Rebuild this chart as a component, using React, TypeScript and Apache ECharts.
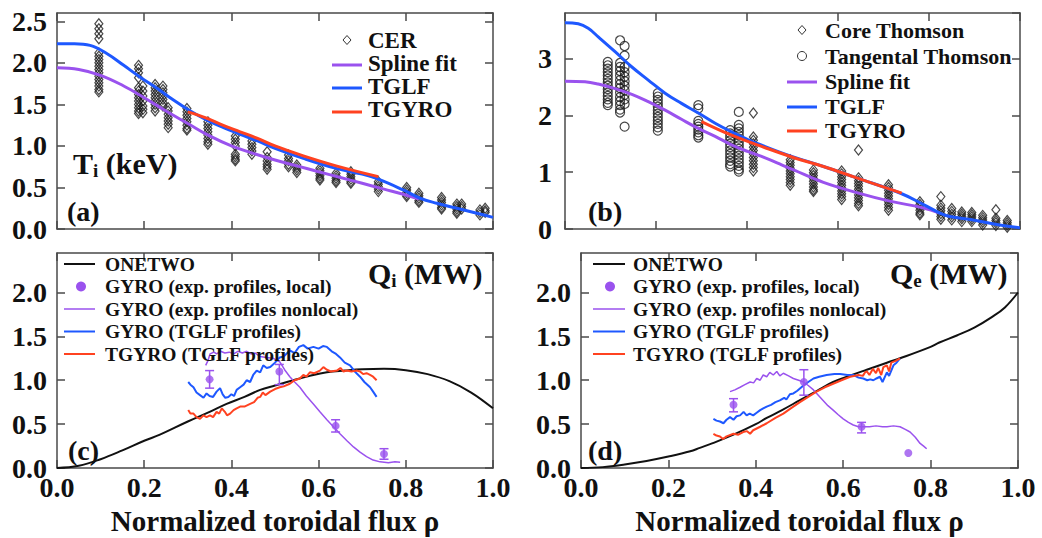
import React, { useEffect, useRef } from 'react';
import * as echarts from 'echarts';

const FONT = '"Liberation Serif", "Times New Roman", serif';
const PURPLE = '#9a52ee';
const BLUE = '#1e58ff';
const RED = '#ff4220';
const BORDER = '#4a4a4a';

// ---------- Panel (a): Ti (keV) ----------
const cerClusters: [number, number[]][] = [
  [0.096, [2.47, 2.41, 2.35, 2.29, 2.12, 2.08, 2.04, 2.0, 1.96, 1.92, 1.88, 1.84, 1.8, 1.76, 1.72, 1.68, 1.65]],
  [0.187, [1.97, 1.93, 1.88, 1.82, 1.7, 1.66, 1.62, 1.58, 1.54, 1.5, 1.46, 1.42, 1.39]],
  [0.197, [1.72, 1.66, 1.6, 1.54, 1.48, 1.44, 1.4]],
  [0.225, [1.74, 1.7, 1.66, 1.62, 1.58, 1.54, 1.5, 1.46, 1.42]],
  [0.243, [1.72, 1.68, 1.64, 1.6, 1.56, 1.52, 1.48]],
  [0.255, [1.46, 1.42, 1.38, 1.34, 1.3, 1.26, 1.22]],
  [0.298, [1.45, 1.41, 1.37, 1.33, 1.29, 1.25, 1.21, 1.19]],
  [0.346, [1.29, 1.25, 1.21, 1.17, 1.13, 1.09, 1.05, 1.02]],
  [0.409, [1.12, 1.08, 1.04, 1.0, 0.9, 0.87, 0.84, 0.82]],
  [0.447, [1.06, 1.02, 0.98, 0.94, 0.9]],
  [0.482, [0.93, 0.86, 0.82, 0.78, 0.75, 0.72]],
  [0.531, [0.89, 0.85, 0.82, 0.78, 0.75]],
  [0.55, [0.77, 0.74, 0.71, 0.68]],
  [0.603, [0.73, 0.7, 0.67, 0.64, 0.61, 0.59]],
  [0.64, [0.67, 0.64, 0.61, 0.58, 0.56]],
  [0.674, [0.69, 0.66, 0.63, 0.6, 0.57, 0.55]],
  [0.737, [0.57, 0.54, 0.51, 0.48, 0.45]],
  [0.802, [0.5, 0.47, 0.44, 0.41, 0.39]],
  [0.83, [0.43, 0.4, 0.37, 0.34, 0.32]],
  [0.882, [0.38, 0.35, 0.32, 0.29, 0.26, 0.24]],
  [0.917, [0.3, 0.27, 0.24, 0.21, 0.19]],
  [0.928, [0.3, 0.27, 0.24]],
  [0.97, [0.23, 0.2, 0.17]],
  [0.982, [0.25, 0.22, 0.2]],
];
const splineA: [number, number][] = [
  [0, 1.94], [0.05, 1.92], [0.1, 1.85], [0.15, 1.73], [0.2, 1.58], [0.25, 1.42], [0.3, 1.27],
  [0.35, 1.12], [0.4, 1.0], [0.45, 0.91], [0.5, 0.83], [0.55, 0.76], [0.6, 0.69], [0.65, 0.62],
  [0.7, 0.55], [0.75, 0.48], [0.8, 0.41], [0.83, 0.36],
];
const tglfA: [number, number][] = [
  [0, 2.23], [0.04, 2.23], [0.076, 2.21], [0.115, 2.11], [0.153, 1.97], [0.19, 1.83], [0.23, 1.69],
  [0.268, 1.55], [0.306, 1.42], [0.344, 1.31], [0.382, 1.22], [0.42, 1.14], [0.46, 1.06], [0.5, 0.97],
  [0.565, 0.85], [0.64, 0.73], [0.7, 0.66], [0.737, 0.6], [0.794, 0.47], [0.833, 0.37], [0.871, 0.31],
  [0.917, 0.25], [0.963, 0.19], [1.0, 0.14],
];
const tgyroA: [number, number][] = [
  [0.3, 1.41], [0.34, 1.34], [0.38, 1.25], [0.42, 1.17], [0.46, 1.09], [0.5, 1.0], [0.565, 0.88],
  [0.64, 0.76], [0.737, 0.63],
];

// ---------- Panel (b): Te ----------
const tangentalClusters: [number, number[]][] = [
  [0.094, [2.94, 2.88, 2.82, 2.76, 2.7, 2.64, 2.58, 2.52, 2.46, 2.4, 2.34, 2.28, 2.22, 2.18]],
  [0.121, [3.32, 2.92, 2.85, 2.78, 2.7, 2.62, 2.55, 2.48, 2.4, 2.32, 2.25, 2.18, 2.1, 2.05]],
  [0.131, [3.22, 3.05, 2.85, 2.76, 2.68, 2.6, 2.52, 2.44, 2.36, 2.28, 2.2, 1.8]],
  [0.204, [2.39, 2.33, 2.27, 2.21, 2.15, 2.09, 2.03, 1.97, 1.91, 1.85, 1.79, 1.73]],
  [0.293, [2.18, 2.12, 1.9, 1.85, 1.8, 1.75, 1.7, 1.65, 1.61]],
  [0.363, [1.74, 1.68, 1.62, 1.56, 1.5, 1.44, 1.38, 1.32, 1.26, 1.2, 1.14, 1.1]],
  [0.382, [2.06, 1.83, 1.77, 1.71, 1.65, 1.59, 1.53, 1.47, 1.41, 1.35, 1.29, 1.23, 1.17, 1.11, 1.05, 1.01]],
];
const coreClusters: [number, number[]][] = [
  [0.414, [2.04, 1.62, 1.56, 1.5, 1.44, 1.38, 1.32, 1.26, 1.2, 1.14, 1.08, 1.02]],
  [0.495, [1.22, 1.17, 1.12, 1.07, 1.02, 0.97, 0.92, 0.87, 0.82, 0.77]],
  [0.546, [1.04, 0.99, 0.94, 0.89, 0.84, 0.79, 0.74, 0.69, 0.66]],
  [0.608, [1.02, 0.97, 0.92, 0.87, 0.82, 0.77, 0.72, 0.67, 0.62, 0.57, 0.52]],
  [0.645, [1.39, 0.9, 0.85, 0.8, 0.75, 0.7, 0.65, 0.6, 0.55, 0.5, 0.45, 0.41]],
  [0.711, [0.78, 0.73, 0.68, 0.63, 0.58, 0.53, 0.48, 0.43, 0.38, 0.33]],
  [0.78, [0.48, 0.43, 0.38, 0.33, 0.28, 0.25]],
  [0.826, [0.57, 0.42, 0.37, 0.32, 0.27, 0.22, 0.17]],
  [0.85, [0.36, 0.31, 0.26, 0.21, 0.16]],
  [0.872, [0.3, 0.26, 0.22, 0.18, 0.13]],
  [0.894, [0.29, 0.25, 0.21, 0.17, 0.13]],
  [0.918, [0.24, 0.2, 0.16, 0.12, 0.07]],
  [0.947, [0.34, 0.19, 0.15, 0.11, 0.06]],
  [0.972, [0.15, 0.11, 0.07, 0.03]],
];
const splineB: [number, number][] = [
  [0, 2.6], [0.044, 2.59], [0.073, 2.55], [0.11, 2.47], [0.147, 2.37], [0.183, 2.24], [0.22, 2.09],
  [0.256, 1.93], [0.293, 1.77], [0.33, 1.63], [0.366, 1.48], [0.403, 1.36], [0.44, 1.25], [0.476, 1.13],
  [0.505, 1.03], [0.568, 0.82], [0.641, 0.64], [0.714, 0.49], [0.788, 0.37], [0.824, 0.28],
];
const tglfB: [number, number][] = [
  [0, 3.63], [0.029, 3.61], [0.051, 3.53], [0.073, 3.38], [0.11, 3.12], [0.147, 2.85], [0.183, 2.62],
  [0.22, 2.39], [0.256, 2.21], [0.293, 2.04], [0.33, 1.86], [0.366, 1.71], [0.403, 1.57], [0.44, 1.45],
  [0.476, 1.34], [0.505, 1.26], [0.568, 1.1], [0.641, 0.9], [0.74, 0.62], [0.788, 0.43], [0.824, 0.28],
  [0.846, 0.22], [0.897, 0.16], [0.949, 0.08], [1.0, 0.02],
];
const tgyroB: [number, number][] = [
  [0.3, 1.89], [0.366, 1.65], [0.44, 1.43], [0.505, 1.25], [0.568, 1.1], [0.641, 0.9], [0.74, 0.63],
];

// ---------- Panel (c): Qi (MW) ----------
const onetwoC: [number, number][] = [
  [0, 0], [0.05, 0.025], [0.1, 0.1], [0.15, 0.2], [0.2, 0.31], [0.236, 0.38], [0.3, 0.53], [0.35, 0.64],
  [0.389, 0.73], [0.43, 0.81], [0.466, 0.89], [0.5, 0.94], [0.542, 1.0], [0.58, 1.05], [0.619, 1.09],
  [0.66, 1.11], [0.7, 1.125], [0.75, 1.13], [0.8, 1.115], [0.85, 1.07], [0.9, 0.99], [0.95, 0.86], [1.0, 0.68],
];
// [rho, value, lower, upper]
const gyroLocalC: [number, number, number, number][] = [
  [0.35, 1.01, 0.91, 1.11], [0.51, 1.1, 0.95, 1.18], [0.639, 0.48, 0.41, 0.55], [0.75, 0.16, 0.1, 0.22],
];
const nonlocalC: [number, number][] = [
  [0.341, 1.17], [0.346, 1.22], [0.351, 1.3], [0.36, 1.32], [0.366, 1.3], [0.375, 1.33], [0.385, 1.31],
  [0.395, 1.32], [0.405, 1.3], [0.415, 1.33], [0.425, 1.31], [0.435, 1.33], [0.445, 1.3], [0.455, 1.31],
  [0.466, 1.27], [0.48, 1.26], [0.496, 1.25], [0.511, 1.21], [0.522, 1.12], [0.534, 1.04], [0.545, 0.98],
  [0.557, 0.92], [0.572, 0.82], [0.588, 0.73], [0.603, 0.64], [0.619, 0.55], [0.634, 0.47], [0.649, 0.39],
  [0.665, 0.31], [0.68, 0.24], [0.695, 0.18], [0.71, 0.13], [0.725, 0.09], [0.741, 0.07], [0.76, 0.06],
  [0.775, 0.07], [0.787, 0.065],
];
const gyroTglfC: [number, number][] = [
  [0.301, 0.98], [0.306, 0.95], [0.313, 0.92], [0.32, 0.86], [0.328, 0.83], [0.336, 0.8], [0.343, 0.85],
  [0.35, 0.82], [0.358, 0.81], [0.366, 0.87], [0.374, 0.91], [0.38, 0.84], [0.386, 0.8], [0.393, 0.81],
  [0.4, 0.84], [0.406, 0.82], [0.412, 0.89], [0.42, 0.92], [0.428, 0.95], [0.435, 1.0], [0.443, 0.98],
  [0.45, 1.06], [0.458, 1.11], [0.466, 1.09], [0.473, 1.17], [0.481, 1.14], [0.489, 1.15], [0.5, 1.2],
  [0.511, 1.26], [0.52, 1.27], [0.534, 1.34], [0.545, 1.31], [0.555, 1.38], [0.565, 1.4], [0.575, 1.36],
  [0.588, 1.38], [0.6, 1.36], [0.61, 1.39], [0.619, 1.38], [0.63, 1.33], [0.64, 1.3], [0.649, 1.26],
  [0.66, 1.2], [0.672, 1.17], [0.683, 1.1], [0.695, 1.04], [0.705, 0.98], [0.718, 0.92], [0.725, 0.87],
  [0.733, 0.81],
];
const tgyroC: [number, number][] = [
  [0.301, 0.66], [0.306, 0.62], [0.313, 0.62], [0.32, 0.58], [0.328, 0.56], [0.336, 0.6], [0.343, 0.58],
  [0.351, 0.6], [0.358, 0.58], [0.366, 0.64], [0.372, 0.62], [0.378, 0.68], [0.385, 0.64], [0.39, 0.6],
  [0.397, 0.62], [0.405, 0.66], [0.412, 0.68], [0.42, 0.7], [0.43, 0.7], [0.443, 0.73], [0.452, 0.75],
  [0.46, 0.8], [0.466, 0.81], [0.472, 0.86], [0.478, 0.83], [0.489, 0.87], [0.5, 0.9], [0.511, 0.92],
  [0.52, 0.93], [0.534, 0.96], [0.545, 1.0], [0.557, 1.02], [0.565, 1.06], [0.572, 1.04], [0.58, 1.09],
  [0.59, 1.08], [0.603, 1.11], [0.611, 1.15], [0.619, 1.12], [0.628, 1.1], [0.642, 1.11], [0.65, 1.14],
  [0.657, 1.1], [0.665, 1.11], [0.675, 1.1], [0.688, 1.11], [0.695, 1.1], [0.702, 1.07], [0.71, 1.08],
  [0.718, 1.06], [0.725, 1.04], [0.733, 1.0],
];

// ---------- Panel (d): Qe (MW) ----------
const onetwoD: [number, number][] = [
  [0, 0], [0.05, 0.01], [0.1, 0.04], [0.15, 0.08], [0.2, 0.13], [0.25, 0.19], [0.272, 0.23], [0.3, 0.28],
  [0.349, 0.38], [0.4, 0.5], [0.425, 0.57], [0.46, 0.66], [0.5, 0.77], [0.54, 0.88], [0.577, 0.98],
  [0.62, 1.06], [0.654, 1.12], [0.7, 1.2], [0.73, 1.25], [0.8, 1.38], [0.82, 1.43], [0.86, 1.51],
  [0.9, 1.6], [0.94, 1.72], [0.97, 1.83], [1.0, 2.0],
];
const gyroLocalD: [number, number, number, number][] = [
  [0.349, 0.72, 0.64, 0.79], [0.51, 0.98, 0.83, 1.12], [0.642, 0.47, 0.4, 0.52], [0.749, 0.17, 0.17, 0.17],
];
const nonlocalD: [number, number][] = [
  [0.341, 0.87], [0.352, 0.89], [0.364, 0.92], [0.375, 0.95], [0.387, 0.98], [0.395, 0.97], [0.402, 1.02],
  [0.41, 1.0], [0.417, 1.06], [0.425, 1.04], [0.432, 1.09], [0.44, 1.06], [0.448, 1.1], [0.455, 1.05],
  [0.463, 1.08], [0.475, 1.05], [0.486, 1.02], [0.498, 1.0], [0.509, 0.98], [0.52, 0.94], [0.532, 0.89],
  [0.543, 0.83], [0.554, 0.77], [0.565, 0.71], [0.577, 0.66], [0.588, 0.61], [0.6, 0.56], [0.612, 0.52],
  [0.623, 0.49], [0.635, 0.47], [0.646, 0.47], [0.66, 0.47], [0.675, 0.48], [0.69, 0.47], [0.7, 0.47],
  [0.715, 0.48], [0.73, 0.47], [0.742, 0.44], [0.753, 0.41], [0.765, 0.35], [0.776, 0.28], [0.784, 0.25],
  [0.791, 0.22],
];
const gyroTglfD: [number, number][] = [
  [0.303, 0.56], [0.31, 0.54], [0.318, 0.53], [0.326, 0.51], [0.333, 0.55], [0.341, 0.58], [0.349, 0.55],
  [0.356, 0.59], [0.364, 0.6], [0.372, 0.64], [0.379, 0.6], [0.386, 0.62], [0.394, 0.6], [0.402, 0.63],
  [0.41, 0.66], [0.417, 0.68], [0.425, 0.7], [0.435, 0.72], [0.445, 0.75], [0.455, 0.77], [0.465, 0.8],
  [0.47, 0.78], [0.478, 0.84], [0.486, 0.85], [0.495, 0.88], [0.509, 0.94], [0.52, 0.98], [0.532, 1.02],
  [0.545, 1.04], [0.562, 1.06], [0.58, 1.07], [0.593, 1.07], [0.61, 1.06], [0.623, 1.06], [0.635, 1.03],
  [0.646, 1.02], [0.655, 1.0], [0.662, 1.01], [0.669, 1.0], [0.676, 1.02], [0.684, 1.04], [0.69, 0.98],
  [0.7, 1.09], [0.705, 1.05], [0.715, 1.17], [0.722, 1.2], [0.73, 1.25],
];
const tgyroD: [number, number][] = [
  [0.303, 0.39], [0.31, 0.37], [0.318, 0.36], [0.325, 0.33], [0.333, 0.36], [0.349, 0.39], [0.36, 0.38],
  [0.371, 0.41], [0.38, 0.42], [0.387, 0.39], [0.394, 0.43], [0.41, 0.47], [0.425, 0.51], [0.445, 0.57],
  [0.463, 0.62], [0.48, 0.68], [0.501, 0.75], [0.52, 0.81], [0.539, 0.87], [0.558, 0.92], [0.577, 0.96],
  [0.596, 1.0], [0.616, 1.04], [0.635, 1.06], [0.645, 1.05], [0.65, 1.09], [0.654, 1.1], [0.66, 1.06],
  [0.668, 1.13], [0.675, 1.08], [0.68, 1.14], [0.687, 1.06], [0.692, 1.15], [0.7, 1.17], [0.705, 1.1],
  [0.71, 1.2], [0.72, 1.22], [0.73, 1.25],
];

// axis ranges / tick steps
const yMax = [2.6, 3.8, 2.45, 2.45];
const yStep = [0.5, 1, 0.5, 0.5];
const yDecimals = [1, 0, 1, 1];
const xTicksStep = 0.2;
const xName = 'Normalized toroidal flux ρ';

const flatten = (cl: [number, number[]][]) =>
  cl.flatMap(([x, ys]) => ys.map((y) => [x, y] as [number, number]));

export default function App() {
  const ref = useRef<HTMLDivElement>(null);
  useEffect(() => {
    if (!ref.current) return;
    const chart = echarts.init(ref.current, undefined, { renderer: 'svg' });

    const grids = [
      { left: 57, top: 13, width: 436, height: 216 },
      { left: 565, top: 13, width: 455, height: 216 },
      { left: 57, top: 253, width: 436, height: 215 },
      { left: 581, top: 253, width: 437, height: 215 },
    ];
    const lineSt = { color: BORDER, width: 1.5 };
    const labelSt = { fontFamily: FONT, fontWeight: 'bold', fontSize: 28, color: '#111' };
    const yMargins = [10, 13, 10, 10];

    const xAxis: any[] = [];
    const yAxis: any[] = [];
    grids.forEach((_, gi) => {
      const bottomLabels = gi >= 2;
      xAxis.push({
        type: 'value', gridIndex: gi, min: 0, max: 1, interval: xTicksStep, position: 'bottom',
        axisLine: { show: true, onZero: false, lineStyle: lineSt },
        axisTick: { show: true, inside: true, length: 8, lineStyle: lineSt },
        splitLine: { show: false },
        axisLabel: { show: bottomLabels, margin: 5, ...labelSt, formatter: (v: number) => v.toFixed(1) },
        name: bottomLabels ? xName : '',
        nameLocation: 'middle', nameGap: 38,
        nameTextStyle: { fontFamily: FONT, fontWeight: 'bold', fontSize: 29, color: '#111' },
      });
      xAxis.push({
        type: 'value', gridIndex: gi, min: 0, max: 1, interval: xTicksStep, position: 'top',
        axisLine: { show: true, onZero: false, lineStyle: lineSt },
        axisTick: { show: true, inside: true, length: 8, lineStyle: lineSt },
        splitLine: { show: false }, axisLabel: { show: false },
      });
      const step = yStep[gi];
      const fmt = (v: number) => {
        const k = v / step;
        return Math.abs(k - Math.round(k)) < 1e-6 ? v.toFixed(yDecimals[gi]) : '';
      };
      yAxis.push({
        type: 'value', gridIndex: gi, min: 0, max: yMax[gi], interval: step, position: 'left',
        axisLine: { show: true, onZero: false, lineStyle: lineSt },
        axisTick: { show: true, inside: true, length: 8, lineStyle: lineSt },
        splitLine: { show: false },
        axisLabel: { show: true, margin: yMargins[gi], ...labelSt, formatter: fmt, showMaxLabel: false },
      });
      yAxis.push({
        type: 'value', gridIndex: gi, min: 0, max: yMax[gi], interval: step, position: 'right',
        axisLine: { show: true, onZero: false, lineStyle: lineSt },
        axisTick: { show: true, inside: true, length: 8, lineStyle: lineSt },
        splitLine: { show: false }, axisLabel: { show: false },
      });
    });

    const line = (name: string, data: any[], gi: number, color: string, width: number, smooth: number | boolean, z = 3) => ({
      name, type: 'line', xAxisIndex: gi * 2, yAxisIndex: gi * 2, data, showSymbol: false, symbol: 'none',
      smooth, lineStyle: { color, width }, itemStyle: { color }, z, silent: true,
    });
    const scatter = (name: string, data: any[], gi: number, symbol: string, size: any) => ({
      name, type: 'scatter', xAxisIndex: gi * 2, yAxisIndex: gi * 2, data, symbol, symbolSize: size,
      itemStyle: { color: 'rgba(0,0,0,0)', borderColor: '#1a1a1a', borderWidth: 1.2 }, z: 2, silent: true,
    });
    const dots = (name: string, data: any[], gi: number) => ({
      name, type: 'scatter', xAxisIndex: gi * 2, yAxisIndex: gi * 2,
      data: data.map((d) => [d[0], d[1]]), symbol: 'circle', symbolSize: 8,
      itemStyle: { color: PURPLE }, z: 5, silent: true,
    });
    const errBars = (data: any[], gi: number) => ({
      type: 'custom', xAxisIndex: gi * 2, yAxisIndex: gi * 2, data, z: 5, silent: true,
      renderItem: (_p: any, api: any) => {
        const x = api.value(0), lo = api.value(2), hi = api.value(3);
        if (!(hi > lo)) return { type: 'group', children: [] };
        const a = api.coord([x, lo]);
        const b = api.coord([x, hi]);
        const st = { stroke: PURPLE, lineWidth: 1.5 };
        const w = 4.5;
        return {
          type: 'group',
          children: [
            { type: 'line', shape: { x1: a[0], y1: a[1], x2: b[0], y2: b[1] }, style: st },
            { type: 'line', shape: { x1: a[0] - w, y1: a[1], x2: a[0] + w, y2: a[1] }, style: st },
            { type: 'line', shape: { x1: b[0] - w, y1: b[1], x2: b[0] + w, y2: b[1] }, style: st },
          ],
        };
      },
    });

    const series: any[] = [
      // (a)
      scatter('CER', flatten(cerClusters), 0, 'diamond', [8, 10]),
      line('Spline fit', splineA, 0, PURPLE, 3, 0.4),
      line('TGLF', tglfA, 0, BLUE, 3, 0.4),
      line('TGYRO', tgyroA, 0, RED, 3, 0.4, 4),
      // (b)
      scatter('Tangental Thomson', flatten(tangentalClusters), 1, 'circle', 9),
      scatter('Core Thomson', flatten(coreClusters), 1, 'diamond', [8, 10]),
      line('Spline fit', splineB, 1, PURPLE, 3, 0.4),
      line('TGLF', tglfB, 1, BLUE, 3, 0.4),
      line('TGYRO', tgyroB, 1, RED, 3, 0.4, 4),
      // (c)
      line('ONETWO', onetwoC, 2, '#111', 2, 0.4),
      line('GYRO (exp. profiles nonlocal)', nonlocalC, 2, PURPLE, 1.5, false),
      line('GYRO (TGLF profiles)', gyroTglfC, 2, BLUE, 2, false),
      line('TGYRO (TGLF profiles)', tgyroC, 2, RED, 2, false),
      errBars(gyroLocalC, 2),
      dots('GYRO (exp. profiles, local)', gyroLocalC, 2),
      // (d)
      line('ONETWO', onetwoD, 3, '#111', 2, 0.4),
      line('GYRO (exp. profiles nonlocal)', nonlocalD, 3, PURPLE, 1.5, false),
      line('GYRO (TGLF profiles)', gyroTglfD, 3, BLUE, 2, false),
      line('TGYRO (TGLF profiles)', tgyroD, 3, RED, 2, false, 4),
      errBars(gyroLocalD, 3),
      dots('GYRO (exp. profiles, local)', gyroLocalD, 3),
    ];

    const txt = (x: number, y: number, text: string, size: number, extra: any = {}) => ({
      type: 'text', x, y, z: 100,
      style: {
        text, fill: '#111', font: `bold ${size}px ${FONT}`,
        verticalAlign: 'middle', textAlign: 'left', ...extra,
      },
    });
    const hline = (x1: number, x2: number, y: number, color: string, w: number) => ({
      type: 'line', z: 100, shape: { x1, y1: y, x2, y2: y }, style: { stroke: color, lineWidth: w },
    });
    const diamond = (cx: number, cy: number) => ({
      type: 'polygon', z: 100,
      shape: { points: [[cx, cy - 4.5], [cx + 4, cy], [cx, cy + 4.5], [cx - 4, cy]] },
      style: { fill: 'none', stroke: '#333', lineWidth: 1 },
    });
    const sub = (x: number, y: number, main: string, s: string, rest: string, size: number) => ({
      type: 'text', x, y, z: 100,
      style: {
        text: `{a|${main}}{s|${s}}{a|${rest}}`,
        verticalAlign: 'middle', textAlign: 'left',
        rich: {
          a: { font: `bold ${size}px ${FONT}`, fill: '#111', lineHeight: size + 4 },
          s: { font: `bold ${Math.round(size * 0.62)}px ${FONT}`, fill: '#111', lineHeight: 12, verticalAlign: 'bottom' },
        },
      },
    });

    const LF = 19.5;
    const legC = (x0: number, x1: number, tx: number, dotX: number, rows: number[]) => [
      hline(x0, x1, rows[0], '#111', 2), txt(tx, rows[0], 'ONETWO', LF),
      { type: 'circle', z: 100, shape: { cx: dotX, cy: rows[1], r: 5 }, style: { fill: PURPLE } },
      txt(tx, rows[1], 'GYRO (exp. profiles, local)', LF),
      hline(x0, x1, rows[2], PURPLE, 1.5), txt(tx, rows[2], 'GYRO (exp. profiles nonlocal)', LF),
      hline(x0, x1, rows[3], BLUE, 2), txt(tx, rows[3], 'GYRO (TGLF profiles)', LF),
      hline(x0, x1, rows[4], RED, 2), txt(tx, rows[4], 'TGYRO (TGLF profiles)', LF),
    ];
    const legRows = [264, 286.5, 309, 331.5, 354];

    const graphic: any[] = [
      // (a) legend
      diamond(347, 40), txt(368, 40, 'CER', 23),
      hline(332, 362, 65, PURPLE, 3), txt(368, 63, 'Spline fit', 23),
      hline(332, 362, 88, BLUE, 3), txt(368, 86, 'TGLF', 23),
      hline(332, 362, 112, RED, 3), txt(368, 109, 'TGYRO', 23),
      sub(73, 163, 'T', 'i', ' (keV)', 30),
      txt(67, 211, '(a)', 28),
      // (b) legend
      diamond(802, 30), txt(825, 30, 'Core Thomson', 22),
      { type: 'circle', z: 100, shape: { cx: 802, cy: 56, r: 4.5 }, style: { fill: 'none', stroke: '#333', lineWidth: 1 } },
      txt(825, 56, 'Tangental Thomson', 22),
      hline(787, 817, 82, PURPLE, 3), txt(825, 81, 'Spline fit', 22),
      hline(787, 817, 107, BLUE, 3), txt(825, 106, 'TGLF', 22),
      hline(787, 817, 131, RED, 3), txt(825, 130, 'TGYRO', 22),
      txt(588, 211, '(b)', 28),
      // (c)
      ...legC(64, 95, 105, 81, legRows),
      sub(368, 273, 'Q', 'i', ' (MW)', 30),
      txt(68, 450, '(c)', 28),
      // (d)
      ...legC(593, 625, 633, 610, legRows),
      sub(890, 273, 'Q', 'e', ' (MW)', 30),
      txt(588, 450, '(d)', 28),
    ];

    chart.setOption({
      animation: false,
      backgroundColor: '#ffffff',
      grid: grids,
      xAxis,
      yAxis,
      series,
      graphic,
    });
    return () => chart.dispose();
  }, []);

  return (
    <div
      ref={ref}
      style={{ position: 'fixed', left: 0, top: 0, width: 1042, height: 538, background: '#fff' }}
    />
  );
}
